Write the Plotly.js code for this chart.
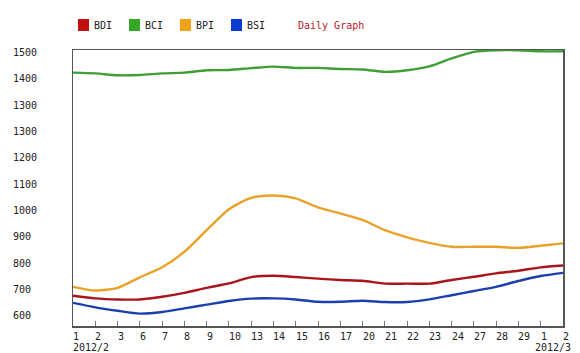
<!DOCTYPE html>
<html>
<head>
<meta charset="utf-8">
<script src="https://cdn.plot.ly/plotly-3.0.1.min.js"></script>
<style>
  html, body { margin: 0; padding: 0; background: #ffffff; }
  #chart { width: 580px; height: 353px; }
</style>
</head>
<body>
<div id="chart"></div>
<script>
// ---- data ----
const dates = ["2012-02-01","2012-02-02","2012-02-03","2012-02-06","2012-02-07","2012-02-08","2012-02-09",
  "2012-02-10","2012-02-13","2012-02-14","2012-02-15","2012-02-16","2012-02-17","2012-02-20","2012-02-21",
  "2012-02-22","2012-02-23","2012-02-24","2012-02-27","2012-02-28","2012-02-29","2012-03-01","2012-03-02"];
const dayLabels = ["1","2","3","6","7","8","9","10","13","14","15","16","17","20","21","22","23","24","27","28","29","1","2"];
const monthLabels = ["2012/2", "2012/3"];

const seriesNames = ["BDI", "BCI", "BPI", "BSI"];
const bdi = [676,666,662,662,672,687,706,723,747,752,747,741,736,733,722,722,722,736,748,761,771,784,791];
const bci = [1424,1421,1414,1415,1421,1424,1433,1434,1441,1447,1442,1442,1438,1436,1427,1433,1448,1478,1503,1509,1509,1505,1505];
const bpi = [710,696,706,746,784,843,925,1005,1048,1057,1046,1012,989,964,925,898,877,862,862,862,858,866,875];
const bsi = [649,632,619,608,614,628,642,656,665,666,662,653,653,657,652,652,662,678,694,710,732,751,763];

// y-axis tick positions and the labels printed beside them (as they appear in the original)
const yTickVals = [1600,1500,1400,1300,1200,1100,1000,900,800,700,600];
const yTickText = ["1500","1400","1300","1300","1200","1100","1000","900","800","700","600"];

const lineColors = ["#a8151b", "#3f9e36", "#e9a128", "#1d3fae"];
const keyColors  = ["#c40d0d", "#35a828", "#f2a21a", "#0a3bd0"];

// ---- geometry helpers (pixel -> paper) ----
const W = 580, H = 353;
const M = { l: 73, r: 17, t: 50, b: 27 };
const PW = W - M.l - M.r, PH = H - M.t - M.b;
const px = x => (x - M.l) / PW;
const py = y => (H - M.b - y) / PH;

const font = "DejaVu Sans Mono, monospace";

const mk = (name, y, color, yaxis) => ({
  type: "scatter", mode: "lines", name: name, x: dates, y: y, yaxis: yaxis,
  line: { color: color, width: 2.4, shape: "spline", smoothing: 0.7 },
  showlegend: false, hoverinfo: "skip"
});

const traces = [
  mk(seriesNames[1], bci, lineColors[1], "y2"),
  mk(seriesNames[2], bpi, lineColors[2], "y"),
  mk(seriesNames[0], bdi, lineColors[0], "y"),
  mk(seriesNames[3], bsi, lineColors[3], "y")
];

const annotations = [];
const shapes = [];

// y labels (left-aligned)
yTickVals.forEach((v, i) => annotations.push({
  xref: "paper", yref: "y", x: px(11), y: v, xanchor: "left", yanchor: "middle",
  text: yTickText[i], showarrow: false, font: { family: font, size: 10, color: "#222" }
}));

// x labels (left-aligned at each tick)
dates.forEach((d, i) => annotations.push({
  xref: "x", yref: "paper", x: d, y: 0, xanchor: "left", yanchor: "top", yshift: -3, xshift: -2,
  text: dayLabels[i], showarrow: false, font: { family: font, size: 10, color: "#222" }
}));
annotations.push({
  xref: "x", yref: "paper", x: dates[0], y: 0, xanchor: "left", yanchor: "top", yshift: -14, xshift: -2,
  text: monthLabels[0], showarrow: false, font: { family: font, size: 10, color: "#222" }
});
annotations.push({
  xref: "x", yref: "paper", x: dates[dates.length - 1], y: 0, xanchor: "right", yanchor: "top", yshift: -14, xshift: 10,
  text: monthLabels[1], showarrow: false, font: { family: font, size: 10, color: "#222" }
});

// key
seriesNames.forEach((n, i) => {
  const x0 = 78 + 51 * i;
  shapes.push({ type: "rect", xref: "paper", yref: "paper",
    x0: px(x0), x1: px(x0 + 11), y0: py(31), y1: py(19),
    fillcolor: keyColors[i], line: { width: 0 } });
  annotations.push({ xref: "paper", yref: "paper", x: px(x0 + 14), y: py(25),
    xanchor: "left", yanchor: "middle", text: n, showarrow: false,
    font: { family: font, size: 10, color: "#222" } });
});
annotations.push({ xref: "paper", yref: "paper", x: px(296), y: py(25),
  xanchor: "left", yanchor: "middle", text: "Daily Graph", showarrow: false,
  font: { family: font, size: 10, color: "#b3202a" } });

const layout = {
  width: W, height: H,
  margin: { l: M.l, r: M.r, t: M.t, b: M.b, pad: 0 },
  paper_bgcolor: "#ffffff", plot_bgcolor: "#ffffff",
  showlegend: false,
  xaxis: {
    type: "category", range: [0, dates.length - 1],
    showgrid: false, zeroline: false,
    showline: true, mirror: true, linecolor: "#555", linewidth: 1.5,
    ticks: "inside", ticklen: 5, tickcolor: "#777", tickwidth: 1,
    showticklabels: false, fixedrange: true
  },
  yaxis: {
    range: [561, 1610], showgrid: false, zeroline: false,
    showline: true, mirror: true, linecolor: "#555", linewidth: 1.5,
    ticks: "", showticklabels: false, fixedrange: true
  },
  yaxis2: {
    overlaying: "y", range: [461, 1510], visible: false, fixedrange: true
  },
  annotations: annotations,
  shapes: shapes
};

Plotly.newPlot("chart", traces, layout, { displayModeBar: false, staticPlot: true });
</script>
</body>
</html>
